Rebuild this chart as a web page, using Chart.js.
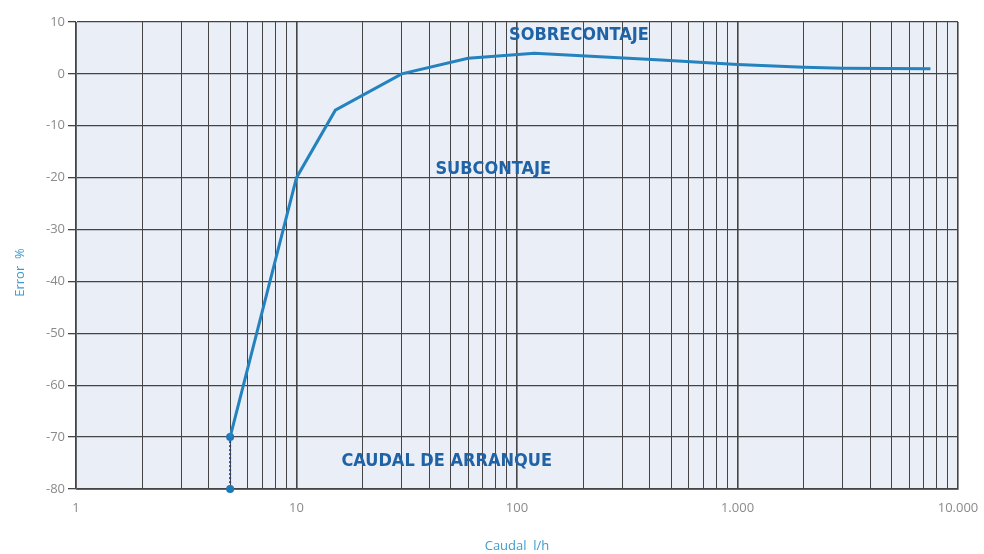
<!DOCTYPE html>
<html>
<head>
<meta charset="utf-8">
<script src="https://cdn.jsdelivr.net/npm/chart.js@4.4.1/dist/chart.umd.min.js"></script>
<style>
    html, body { margin: 0; padding: 0; background: #fff; }
    #wrap { width: 984px; height: 554px; }
</style>
</head>
<body>
<div id="wrap"><canvas id="chart" width="984" height="554"></canvas></div>
<script>
// Error curve (caudal l/h -> error %)
const caudal = [5, 10, 15, 30, 60, 120, 450, 1000, 2000, 3000, 7500];
const errorPct = [-70, -20, -7, 0, 3, 4, 2.7, 1.8, 1.3, 1.1, 1.0];

// start-up flow marker (dotted drop)
const arranqueX = [5, 5];
const arranqueY = [-70, -80];

// log grid: every 1..9 of each decade
const decades = [1, 10, 100, 1000];
const steps = [1, 2, 3, 4, 5, 6, 7, 8, 9];
const xLabels = { 1: "1", 10: "10", 100: "100", 1000: "1.000", 10000: "10.000" };

const notes = [
    { text: "SOBRECONTAJE", x: 191, y: 7.4 },
    { text: "SUBCONTAJE", x: 78, y: -18.4 },
    { text: "CAUDAL DE ARRANQUE", x: 48, y: -74.7 },
];

const gridValues = [];
for (const d of decades)
    for (const s of steps)
        gridValues.push(d * s);
gridValues.push(10000);

const plotBackground = {
    id: "plotBackground",
    beforeDraw(chart) {
        const { ctx, chartArea: a } = chart;
        ctx.save();
        ctx.fillStyle = "#e9eef7";
        ctx.fillRect(a.left, a.top, a.right - a.left, a.bottom - a.top);
        ctx.restore();
    },
};

const noteLabels = {
    id: "noteLabels",
    afterDatasetsDraw(chart) {
        const { ctx, scales, chartArea: a } = chart;
        ctx.save();
        ctx.font = "bold 18px 'DejaVu Sans Condensed', 'Liberation Sans Narrow', sans-serif";
        ctx.fillStyle = "#1f62a5";
        ctx.textAlign = "center";
        ctx.textBaseline = "middle";
        for (const n of notes)
            ctx.fillText(n.text, scales.x.getPixelForValue(n.x), scales.y.getPixelForValue(n.y));

        // y axis title, sitting a little below the middle like the original
        ctx.font = "13px 'Open Sans', sans-serif";
        ctx.fillStyle = "#3d9ccf";
        ctx.translate(20, (a.top + a.bottom) / 2 + 17);
        ctx.rotate(-Math.PI / 2);
        ctx.fillText("Error  %", 0, 0);
        ctx.restore();
    },
};

new Chart(document.getElementById("chart"), {
    type: "line",
    data: {
        datasets: [
            {
                data: caudal.map((x, i) => ({ x, y: errorPct[i] })),
                borderColor: "#2483bf",
                borderWidth: 3,
                pointRadius: 0,
                tension: 0,
            },
            {
                data: arranqueX.map((x, i) => ({ x, y: arranqueY[i] })),
                borderColor: "#2a3f70",
                borderWidth: 2,
                borderDash: [2, 2],
                pointRadius: 4,
                pointBackgroundColor: "#1f78b6",
                pointBorderWidth: 0,
                clip: false,
            },
        ],
    },
    options: {
        animation: false,
        responsive: false,
        layout: { padding: { left: 0, right: 26, top: 22, bottom: 0 } },
        plugins: {
            legend: { display: false },
            tooltip: { enabled: false },
        },
        scales: {
            x: {
                type: "logarithmic",
                min: 1,
                max: 10000,
                afterBuildTicks: (scale) => {
                    scale.ticks = gridValues.map((value) => ({ value }));
                },
                afterFit: (scale) => {
                    scale.height = 65;
                },
                border: { color: "#666", width: 1 },
                grid: {
                    color: "#444",
                    lineWidth: (c) => (xLabels[c.tick && c.tick.value] ? 1.6 : 1),
                    drawTicks: true,
                    tickLength: 8,
                    tickColor: "rgba(0,0,0,0)",
                },
                ticks: {
                    autoSkip: false,
                    maxRotation: 0,
                    padding: 3,
                    color: "#8a8a8a",
                    font: { family: "'Open Sans', sans-serif", size: 13 },
                    callback: (v) => xLabels[v] || "",
                },
                title: {
                    display: true,
                    text: "Caudal  l/h",
                    color: "#3d9ccf",
                    font: { family: "'Open Sans', sans-serif", size: 13 },
                    padding: { top: 0, bottom: 0 },
                },
            },
            y: {
                min: -80,
                max: 10,
                afterFit: (scale) => {
                    scale.width = 76;
                },
                border: { color: "#666", width: 1 },
                grid: {
                    color: "#444",
                    lineWidth: 1.3,
                    drawTicks: true,
                    tickLength: 8,
                },
                ticks: {
                    stepSize: 10,
                    padding: 3,
                    color: "#8a8a8a",
                    font: { family: "'Open Sans', sans-serif", size: 13 },
                },
            },
        },
    },
    plugins: [plotBackground, noteLabels],
});
</script>
</body>
</html>
